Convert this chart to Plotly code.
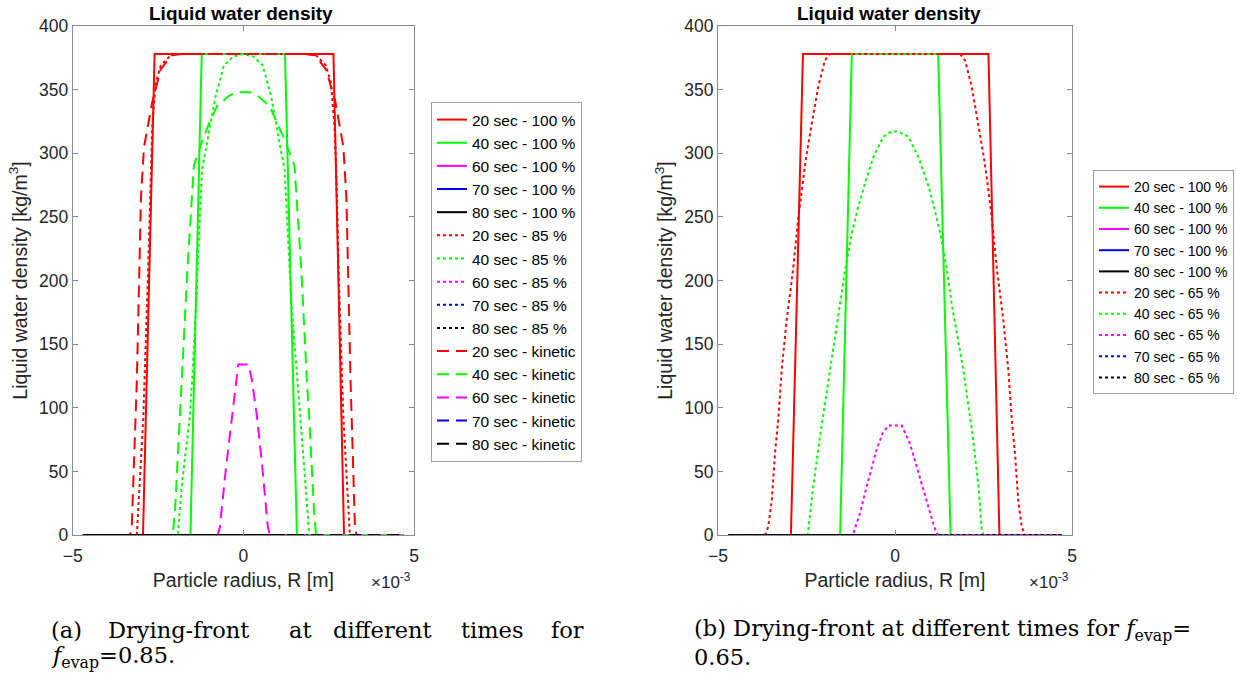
import plotly.graph_objects as go

# ---------------- data (R in units of 1e-3 m, rho in kg/m^3) ----------------
# 100 % curves (identical in both panels)
R_20_100 = [-4.7, -2.94, -2.6, 2.64, 2.95, 4.7]
rho_20_100 = [0, 0, 378, 378, 0, 0]
R_40_100 = [-4.7, -1.55, -1.22, 1.22, 1.57, 4.7]
rho_40_100 = [0, 0, 378, 378, 0, 0]
R_zero = [-4.7, 4.7]
rho_zero = [0, 0]

# panel (a): 85 %
R_20_85 = [-4.7, -3.12, -3.06, -2.93, -2.8, -2.72, -2.67, -2.57, -2.42, -2.13, -1.9,
           1.9, 2.13, 2.42, 2.57, 2.67, 2.72, 2.8, 2.93, 3.06, 3.12, 4.7]
rho_20_85 = [0, 0, 30, 93, 200, 287, 321, 355, 369, 377, 378,
             378, 377, 369, 355, 321, 287, 200, 93, 30, 0, 0]
R_40_85 = [-4.7, -1.92, -1.8, -1.57, -1.5, -1.38, -1.21, -1.06, -0.82, -0.57, -0.3, 0,
           0.3, 0.57, 0.82, 1.06, 1.21, 1.4, 1.59, 1.66, 1.82, 1.93, 4.7]
rho_40_85 = [0, 0, 40, 93, 122, 185, 287, 308, 344, 369, 376, 378,
             376, 369, 344, 308, 287, 185, 122, 93, 40, 0, 0]

# panel (a): kinetic
R_20_kin = [-4.7, -3.32, -3.27, -3.12, -3.0, -2.91, -2.67, -2.42, -2.1, -1.8,
            1.8, 2.1, 2.42, 2.7, 2.93, 3.02, 3.14, 3.27, 3.32, 4.7]
rho_20_kin = [0, 0, 6, 122, 265, 305, 340, 366, 377, 378,
              378, 377, 366, 340, 305, 265, 122, 6, 0, 0]
R_40_kin = [-4.7, -2.07, -2.0, -1.86, -1.79, -1.64, -1.45, -1.2, -1.01, -0.77, -0.43, -0.2,
            0.2, 0.43, 0.77, 1.01, 1.22, 1.5, 1.7, 1.86, 1.93, 2.07, 2.13, 4.7]
rho_40_kin = [0, 0, 20, 93, 122, 208, 290, 310, 323, 337, 345, 348,
              348, 345, 337, 323, 310, 290, 208, 122, 93, 20, 0, 0]
R_60_kin = [-4.7, -0.75, -0.69, -0.5, -0.33, -0.21, -0.15, 0.15, 0.25, 0.4, 0.55, 0.72, 0.78, 4.7]
rho_60_kin = [0, 0, 6, 55, 93, 122, 134, 134, 122, 93, 55, 6, 0, 0]

# panel (b): 65 %
R_20_65 = [-4.7, -3.67, -3.58, -3.48, -3.39, -3.3, -3.2, -3.06, -2.94, -2.87, -2.73, -2.64,
           -2.51, -2.35, -2.17, -1.98, -1.84,
           1.84, 1.98, 2.17, 2.35, 2.51, 2.64, 2.73, 2.87, 2.94, 3.06, 3.2, 3.3, 3.39,
           3.48, 3.58, 3.67, 4.7]
rho_20_65 = [0, 0, 6.5, 27.5, 64, 90, 130, 169, 195, 211, 250, 271, 297, 323.5, 352, 373, 378,
             378, 373, 352, 323.5, 297, 271, 250, 211, 195, 169, 130, 90, 64, 27.5, 6.5, 0, 0]
R_40_65 = [-4.7, -2.47, -2.45, -2.31, -2.12, -1.84, -1.55, -1.41, -1.22, -1.04, -0.85, -0.61,
           -0.33, -0.1, 0.1, 0.38, 0.66, 0.95, 1.1, 1.28, 1.47, 1.6, 1.93, 2.2, 2.36,
           2.45, 2.5, 4.7]
rho_40_65 = [0, 0, 4, 38, 77, 130, 182, 208, 237, 258, 276, 297,
             313, 317, 317, 313, 297, 274, 258, 237, 208, 182, 130, 77, 38,
             4, 0, 0]
R_60_65 = [-4.7, -1.22, -1.18, -0.99, -0.8, -0.52, -0.35, -0.19, 0.19, 0.42, 0.6, 0.8,
           1.08, 1.15, 1.22, 4.7]
rho_60_65 = [0, 0, 1, 17, 38, 67, 80, 86, 86, 72, 55, 35, 9, 3, 0, 0]

times = ["20", "40", "60", "70", "80"]
colors = ["#FF0000", "#00FF00", "#FF00FF", "#0000FF", "#000000"]

series_a = [
    (R_20_100, rho_20_100), (R_40_100, rho_40_100), (R_zero, rho_zero), (R_zero, rho_zero), (R_zero, rho_zero),
    (R_20_85, rho_20_85), (R_40_85, rho_40_85), (R_zero, rho_zero), (R_zero, rho_zero), (R_zero, rho_zero),
    (R_20_kin, rho_20_kin), (R_40_kin, rho_40_kin), (R_60_kin, rho_60_kin), (R_zero, rho_zero), (R_zero, rho_zero),
]
labels_a = ([f"{t} sec - 100 %" for t in times] + [f"{t} sec - 85 %" for t in times]
            + [f"{t} sec - kinetic" for t in times])
series_b = [
    (R_20_100, rho_20_100), (R_40_100, rho_40_100), (R_zero, rho_zero), (R_zero, rho_zero), (R_zero, rho_zero),
    (R_20_65, rho_20_65), (R_40_65, rho_40_65), (R_60_65, rho_60_65), (R_zero, rho_zero), (R_zero, rho_zero),
]
labels_b = [f"{t} sec - 100 %" for t in times] + [f"{t} sec - 65 %" for t in times]

dashes = ["solid", "dot", "12px,7px"]

FONT = "Liberation Sans, Arial, Helvetica, sans-serif"
SERIF = "DejaVu Serif, Liberation Serif, serif"

fig = go.Figure()
for i, ((x, y), name) in enumerate(zip(series_a, labels_a)):
    fig.add_trace(go.Scatter(x=x, y=y, mode="lines", name=name, xaxis="x", yaxis="y",
                             line=dict(color=colors[i % 5], width=2, dash=dashes[i // 5]),
                             legend="legend"))
for i, ((x, y), name) in enumerate(zip(series_b, labels_b)):
    fig.add_trace(go.Scatter(x=x, y=y, mode="lines", name=name, xaxis="x2", yaxis="y2",
                             line=dict(color=colors[i % 5], width=2, dash=dashes[i // 5]),
                             legend="legend2"))

W, H = 1237, 677
ydom = [1 - 535 / H, 1 - 26 / H]

axis_common = dict(showline=True, linecolor="#8c8c8c", linewidth=1, mirror="ticks",
                   ticks="inside", ticklen=5, tickcolor="#8c8c8c", showgrid=False,
                   zeroline=False, tickfont=dict(family=FONT, size=17.5, color="#262626"))

xtitle = dict(text="Particle radius, R [m]", font=dict(family=FONT, size=19.5, color="#262626"), standoff=8)
ytitle = dict(text="Liquid water density [kg/m<sup>3</sup>]", font=dict(family=FONT, size=19.5, color="#262626"), standoff=6)

fig.update_layout(
    width=W, height=H, autosize=False,
    margin=dict(l=0, r=0, t=0, b=0),
    paper_bgcolor="white", plot_bgcolor="white",
    xaxis=dict(domain=[72.7 / W, 414 / W], range=[-5, 5], tickvals=[-5, 0, 5],
               anchor="y", title=xtitle, automargin=False, ticklabelstandoff=5, **axis_common),
    yaxis=dict(domain=ydom, range=[0, 400], tickvals=list(range(0, 401, 50)),
               anchor="x", title=ytitle, automargin=False, **axis_common),
    xaxis2=dict(domain=[718 / W, 1072 / W], range=[-5, 5], tickvals=[-5, 0, 5],
                anchor="y2", title=xtitle, automargin=False, ticklabelstandoff=5, **axis_common),
    yaxis2=dict(domain=ydom, range=[0, 400], tickvals=list(range(0, 401, 50)),
                anchor="x2", title=ytitle, automargin=False, **axis_common),
    legend=dict(x=431 / W, y=1 - 102 / H, xanchor="left", yanchor="top",
                bordercolor="#a0a0a0", borderwidth=1, bgcolor="white",
                font=dict(family=FONT, size=15.5, color="black"), tracegroupgap=0),
    legend2=dict(x=1234 / W, y=1 - 170 / H, xanchor="right", yanchor="top",
                 bordercolor="#a0a0a0", borderwidth=1, bgcolor="white",
                 font=dict(family=FONT, size=14, color="black"), tracegroupgap=0),
    showlegend=True,
)

ann = []
# subplot titles
for xc in (241, 889):
    ann.append(dict(text="<b>Liquid water density</b>", x=xc / W, y=1 - 13 / H, xref="paper", yref="paper",
                    showarrow=False, xanchor="center", yanchor="middle",
                    font=dict(family=FONT, size=19, color="black")))
# x10^-3 exponent labels
for xc in (391, 1049):
    ann.append(dict(text="×10<sup>-3</sup>", x=xc / W, y=1 - 581 / H, xref="paper", yref="paper",
                    showarrow=False, xanchor="center", yanchor="middle",
                    font=dict(family=FONT, size=17, color="#262626")))
# captions
CAP = 22.5
cap_a_words = [("(a)", 49, "left"), ("Drying-front", 178, "center"), ("at", 300, "center"),
               ("different", 382, "center"), ("times", 492, "center"), ("for", 586, "right")]
for word, xp, anc in cap_a_words:
    ann.append(dict(text=word, x=xp / W, y=1 - 630 / H, xref="paper", yref="paper", showarrow=False,
                    xanchor=anc, yanchor="middle", font=dict(family=SERIF, size=CAP, color="black")))
ann.append(dict(text="<i>f</i><sub>evap</sub>=0.85.", x=49 / W, y=1 - 657 / H, xref="paper", yref="paper",
                showarrow=False, xanchor="left", yanchor="middle",
                font=dict(family=SERIF, size=CAP, color="black")))
ann.append(dict(text="(b) Drying-front at different times for <i>f</i><sub>evap</sub>=",
                x=692 / W, y=1 - 630 / H, xref="paper", yref="paper", showarrow=False,
                xanchor="left", yanchor="middle", font=dict(family=SERIF, size=CAP, color="black")))
ann.append(dict(text="0.65.", x=692 / W, y=1 - 657 / H, xref="paper", yref="paper", showarrow=False,
                xanchor="left", yanchor="middle", font=dict(family=SERIF, size=CAP, color="black")))
fig.update_layout(annotations=ann)

fig.write_html("out.html")
